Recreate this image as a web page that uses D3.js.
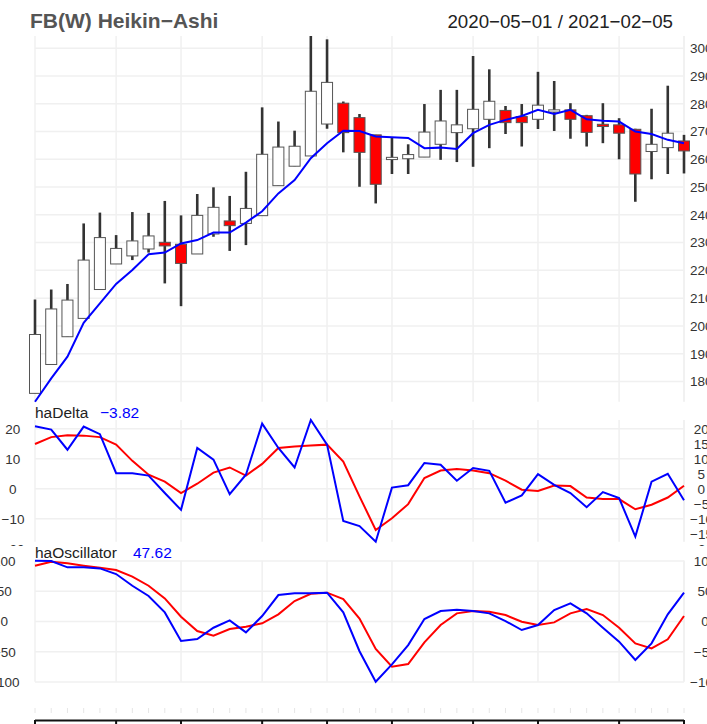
<!DOCTYPE html>
<html>
<head>
<meta charset="utf-8">
<script src="https://cdn.jsdelivr.net/npm/d3@7"></script>
<style>
  body { margin: 0; background: #fff; }
  text { font-family: "Liberation Sans", Arial, sans-serif; }
</style>
</head>
<body>
<div id="viz"></div>
<script>
// weekly bars, FB
const weeks = [
  "2020-05-01", "2020-05-08", "2020-05-15", "2020-05-22", "2020-05-29",
  "2020-06-05", "2020-06-12", "2020-06-19", "2020-06-26",
  "2020-07-03", "2020-07-10", "2020-07-17", "2020-07-24", "2020-07-31",
  "2020-08-07", "2020-08-14", "2020-08-21", "2020-08-28",
  "2020-09-04", "2020-09-11", "2020-09-18", "2020-09-25",
  "2020-10-02", "2020-10-09", "2020-10-16", "2020-10-23", "2020-10-30",
  "2020-11-06", "2020-11-13", "2020-11-20", "2020-11-27",
  "2020-12-04", "2020-12-11", "2020-12-18", "2020-12-24", "2020-12-31",
  "2021-01-08", "2021-01-15", "2021-01-22", "2021-01-29",
  "2021-02-05",
];

// Heikin-Ashi candles
const haOpen = [175.7, 186.1, 196.1, 202.7, 213.1, 222.3, 225.2, 227.7, 230.1, 229.4,
  225.9, 233.1, 237.8, 236.9, 239.7, 250.5, 257.5, 261.2, 272.7, 280.2,
  275.0, 268.8, 259.9, 260.2, 260.8, 265.4, 269.6, 271.0, 274.4, 277.6,
  275.4, 274.4, 277.0, 277.8, 275.7, 272.6, 272.4, 270.8, 262.8, 264.2, 266.6];
const haHigh = [209.5, 213.1, 215.1, 236.9, 240.8, 232.7, 241.0, 240.7, 245.0, 239.8,
  247.5, 249.9, 246.8, 255.5, 278.7, 273.6, 270.3, 304.4, 303.2, 280.8,
  276.3, 268.8, 267.9, 265.4, 279.9, 285.0, 285.0, 297.2, 292.4, 279.2,
  279.9, 291.5, 288.2, 280.2, 276.0, 280.2, 274.8, 271.0, 278.2, 286.5, 268.8];
const haLow = [175.7, 186.1, 196.1, 202.7, 213.1, 222.3, 223.7, 226.4, 215.3, 207.1,
  225.9, 232.1, 227.0, 229.1, 239.7, 250.5, 257.5, 261.2, 271.0, 262.5,
  250.1, 244.1, 254.7, 254.7, 260.8, 259.8, 259.0, 257.3, 264.0, 269.1,
  264.6, 270.9, 270.2, 267.4, 264.6, 265.8, 260.0, 244.7, 252.8, 254.7, 254.9];
const haClose = [196.9, 206.1, 209.3, 223.7, 231.8, 227.9, 230.6, 232.4, 228.8, 222.5,
  239.8, 242.7, 236.1, 242.3, 261.8, 264.4, 264.7, 284.5, 287.7, 269.6,
  262.5, 251.0, 260.7, 261.7, 269.8, 273.8, 272.4, 278.0, 280.9, 273.2,
  273.2, 279.5, 277.8, 274.4, 269.7, 271.8, 269.4, 254.7, 265.4, 269.4, 263.0];
// blue smoothing line on the price panel
const haLine = [172.7, 181.1, 188.9, 201.1, 208.1, 215.1, 220.1, 225.8, 226.4, 229.7,
  230.9, 233.6, 233.6, 237.2, 241.3, 247.7, 252.5, 260.4, 265.8, 270.3,
  270.2, 268.2, 267.9, 267.7, 264.0, 264.2, 263.7, 269.4, 272.4, 274.2,
  275.6, 277.8, 276.3, 277.8, 274.4, 273.9, 273.6, 270.0, 269.1, 267.0, 265.8];

// haDelta panel
const haDelta = [20.8, 19.7, 13.0, 20.7, 18.2, 5.2, 5.2, 4.4, -1.4, -7.0,
  13.6, 9.7, -1.8, 4.7, 21.7, 13.6, 7.1, 22.9, 14.7, -10.7,
  -12.4, -17.6, 0.4, 1.2, 8.6, 8.0, 2.7, 6.9, 6.0, -4.6,
  -2.2, 4.9, 1.3, -1.4, -6.1, -1.1, -3.1, -15.9, 2.4, 5.0, -3.82];
const haDeltaSig = [14.9, 17.2, 17.8, 17.7, 17.2, 14.7, 9.3, 4.7, 2.4, -1.4,
  1.7, 5.4, 7.1, 4.4, 8.3, 13.6, 14.1, 14.4, 14.7, 9.1,
  -2.5, -13.7, -9.8, -5.1, 3.6, 6.1, 6.6, 6.1, 5.2, 2.7,
  -0.3, -0.7, 1.1, 0.9, -2.9, -3.4, -3.4, -6.8, -5.3, -2.9, 1.0];

// haOscillator panel
const haOsc = [100.4, 99.8, 89.4, 89.4, 87.7, 78.4, 59.1, 42.1, 15.1, -32.2,
  -28.9, -10.2, 1.9, -17.9, 9.1, 43.7, 46.5, 46.5, 47.6, 15.1,
  -49.0, -99.3, -70.7, -38.8, 4.1, 17.3, 19.5, 17.3, 13.5, 0.8,
  -14.0, -5.8, 19.0, 30.0, 13.5, -10.2, -33.3, -63.5, -36.0, 11.8, 47.62];
const haOscSig = [92.1, 98.7, 96.0, 92.1, 88.8, 85.0, 74.0, 59.1, 38.2, 8.0,
  -15.7, -23.4, -12.4, -8.5, -3.0, 11.8, 33.8, 45.9, 47.6, 37.1,
  5.0, -45.4, -74.5, -70.1, -34.4, -5.8, 13.5, 17.3, 16.2, 10.7,
  -0.3, -5.8, -1.4, 13.5, 20.6, 10.7, -10.2, -36.0, -44.3, -29.4, 9.1];

const priceTicks = [300, 290, 280, 270, 260, 250, 240, 230, 220, 210, 200, 190, 180];
const deltaTicksRight = [20, 15, 10, 5, 0, -5, -10, -15, -20];
const deltaTicksLeft = [20, 10, 0, -10, -20];
const deltaGrid = [20, 10, 0, -10];
const oscTicks = [100, 50, 0, -50, -100];

const W = 707, H = 724;
const gridCol = "#f0f0f0";
const axFont = 13.5;
const minus = (s) => String(s).replace("-", "\u2212");
// labels padded to a common width, the way R's format() does it
const padLabels = (vals) => {
  const s = vals.map(String);
  const len = d3.max(s, (t) => t.length);
  return s.map((t) => minus(t.padStart(len, " ")));
};

const svg = d3.select("#viz").append("svg")
  .attr("width", W).attr("height", H);
svg.append("rect").attr("width", W).attr("height", H).attr("fill", "#fff");

const n = weeks.length;
const x = d3.scaleLinear().domain([0, n - 1]).range([35, 684]);

// indices where a new month starts
const monthStarts = weeks.map((d, i) => i)
  .filter((i) => i === 0 || weeks[i].slice(0, 7) !== weeks[i - 1].slice(0, 7));
monthStarts.push(n - 1);

// title
svg.append("text").attr("x", 30).attr("y", 28)
  .attr("font-size", 21).attr("font-weight", "bold").attr("fill", "#555")
  .text("FB(W) Heikin\u2212Ashi");
svg.append("text").attr("x", 673).attr("y", 28).attr("text-anchor", "end")
  .attr("font-size", 18.7).attr("fill", "#222")
  .text(`${weeks[0].replace(/-/g, "\u2212")} / ${weeks[n - 1].replace(/-/g, "\u2212")}`);

function panelGrid(g, y, gridVals, top, bottom) {
  g.selectAll("line.h").data(gridVals).join("line")
    .attr("x1", x(0)).attr("x2", x(n - 1))
    .attr("y1", (d) => y(d)).attr("y2", (d) => y(d))
    .attr("stroke", gridCol).attr("stroke-width", 1.5);
  g.selectAll("line.v").data(monthStarts).join("line")
    .attr("x1", (d) => x(d)).attr("x2", (d) => x(d))
    .attr("y1", top).attr("y2", bottom)
    .attr("stroke", gridCol).attr("stroke-width", 1.5);
}

function axisLabels(g, y, vals, xStart) {
  const labs = padLabels(vals);
  g.append("g").selectAll("text").data(vals).join("text")
    .attr("x", xStart).attr("y", (d) => y(d)).attr("dy", "0.36em")
    .attr("font-size", axFont).attr("fill", "#333")
    .style("white-space", "pre")
    .text((d, i) => labs[i]);
}

// ---- price panel
const yP = d3.scaleLinear()
  .domain([d3.min(haLow.concat(haLine)), d3.max(haHigh.concat(haLine))])
  .range([401.7, 36]);
const gP = svg.append("g");
panelGrid(gP.append("g"), yP, priceTicks, 36, 401.7);

gP.append("g").selectAll("line").data(d3.range(n)).join("line")
  .attr("x1", (i) => x(i)).attr("x2", (i) => x(i))
  .attr("y1", (i) => yP(haHigh[i])).attr("y2", (i) => yP(haLow[i]))
  .attr("stroke", "#333").attr("stroke-width", 2.6);

const bw = 11;
gP.append("g").selectAll("rect").data(d3.range(n)).join("rect")
  .attr("x", (i) => x(i) - bw / 2).attr("width", bw)
  .attr("y", (i) => yP(Math.max(haOpen[i], haClose[i])))
  .attr("height", (i) => Math.max(1, Math.abs(yP(haOpen[i]) - yP(haClose[i]))))
  .attr("fill", (i) => (haClose[i] >= haOpen[i] ? "#fff" : "#ff0000"))
  .attr("stroke", "#555").attr("stroke-width", 1);

gP.append("path").datum(haLine)
  .attr("fill", "none").attr("stroke", "#0000ff").attr("stroke-width", 2)
  .attr("d", d3.line().x((d, i) => x(i)).y((d) => yP(d)));

axisLabels(gP, yP, priceTicks, 690);

// ---- haDelta panel
const yD = d3.scaleLinear()
  .domain(d3.extent(haDelta.concat(haDeltaSig)))
  .range([541.7, 420]);
const gD = svg.append("g");
panelGrid(gD.append("g"), yD, deltaGrid, 420, 541.7);
const lineD = d3.line().x((d, i) => x(i)).y((d) => yD(d));
gD.append("path").datum(haDeltaSig).attr("fill", "none")
  .attr("stroke", "#ff0000").attr("stroke-width", 2).attr("d", lineD);
gD.append("path").datum(haDelta).attr("fill", "none")
  .attr("stroke", "#0000ff").attr("stroke-width", 2).attr("d", lineD);

axisLabels(gD, yD, deltaTicksRight, 690);
axisLabels(gD, yD, deltaTicksLeft, 1.5);
gD.append("text").attr("x", 35).attr("y", 418).attr("font-size", 15.5)
  .attr("fill", "#222").text("haDelta");
gD.append("text").attr("x", 100).attr("y", 418).attr("font-size", 15.5)
  .attr("fill", "#0000ff").text(minus(haDelta[n - 1].toFixed(2)));

// ---- haOscillator panel
const yO = d3.scaleLinear()
  .domain(d3.extent(haOsc.concat(haOscSig)))
  .range([681.7, 560.7]);
const gO = svg.append("g");
gO.append("rect").attr("x", 0).attr("y", 546).attr("width", W).attr("height", 140)
  .attr("fill", "#fff");
panelGrid(gO.append("g"), yO, oscTicks, 560.7, 681.7);
const lineO = d3.line().x((d, i) => x(i)).y((d) => yO(d));
gO.append("path").datum(haOscSig).attr("fill", "none")
  .attr("stroke", "#ff0000").attr("stroke-width", 2).attr("d", lineO);
gO.append("path").datum(haOsc).attr("fill", "none")
  .attr("stroke", "#0000ff").attr("stroke-width", 2).attr("d", lineO);

axisLabels(gO, yO, oscTicks, 690);
axisLabels(gO, yO, oscTicks, -10.8);
gO.append("text").attr("x", 35).attr("y", 558).attr("font-size", 15.5)
  .attr("fill", "#222").text("haOscillator");
gO.append("text").attr("x", 133).attr("y", 558).attr("font-size", 15.5)
  .attr("fill", "#0000ff").text(haOsc[n - 1].toFixed(2));

// ---- x axis strip at the bottom
const gX = svg.append("g");
gX.selectAll("line.minor").data(d3.range(n)).join("line")
  .attr("x1", (i) => x(i)).attr("x2", (i) => x(i))
  .attr("y1", 708).attr("y2", 713)
  .attr("stroke", "#e6e6e6").attr("stroke-width", 1);
gX.append("line").attr("x1", x(0)).attr("x2", x(n - 1))
  .attr("y1", 720.5).attr("y2", 720.5).attr("stroke", "#111").attr("stroke-width", 2);
gX.selectAll("line.major").data(monthStarts).join("line")
  .attr("x1", (i) => x(i)).attr("x2", (i) => x(i))
  .attr("y1", 720).attr("y2", 724)
  .attr("stroke", "#111").attr("stroke-width", 2);
</script>
</body>
</html>
